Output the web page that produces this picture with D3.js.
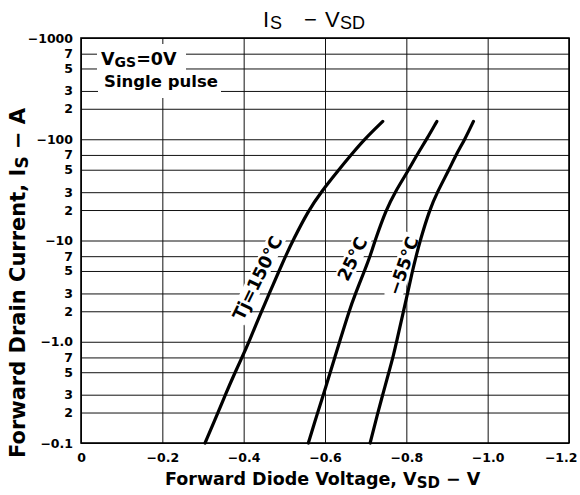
<!DOCTYPE html>
<html><head><meta charset="utf-8">
<script src="https://cdn.jsdelivr.net/npm/d3@7/dist/d3.min.js"></script>
<style>body{margin:0;background:#fff}svg{display:block}</style>
</head><body>
<svg id="c" width="580" height="495"></svg>
<script>
// ---- data ----
const xTicks = [0, -0.2, -0.4, -0.6, -0.8, -1.0, -1.2];
const xTickLabels = ["0", "−0.2", "−0.4", "−0.6", "−0.8", "−1.0", "−1.2"];
const yTicks = [-1000, -700, -500, -300, -200, -100, -70, -50, -30, -20, -10, -7, -5, -3, -2, -1, -0.7, -0.5, -0.3, -0.2, -0.1];
const yTickLabels = ["−1000", "7", "5", "3", "2", "−100", "7", "5", "3", "2", "−10", "7", "5", "3", "2", "−1.0", "7", "5", "3", "2", "−0.1"];
const seriesNames = ["Tj=150°C", "25°C", "−55°C"];
const currentIS = [-0.1, -0.2, -0.3, -0.5, -0.7, -1, -2, -3, -5, -7, -10, -20, -30, -50, -70, -100, -150];
const vsd150 = [-0.305, -0.337, -0.355, -0.379, -0.396, -0.413, -0.444, -0.463, -0.487, -0.503, -0.521, -0.560, -0.590, -0.634, -0.664, -0.697, -0.742];
const vsd25 = [-0.559, -0.582, -0.596, -0.613, -0.624, -0.636, -0.659, -0.675, -0.697, -0.711, -0.723, -0.750, -0.772, -0.806, -0.826, -0.850, -0.875];
const vsdM55 = [-0.711, -0.730, -0.742, -0.757, -0.767, -0.776, -0.793, -0.803, -0.815, -0.824, -0.834, -0.857, -0.876, -0.905, -0.922, -0.944, -0.965];
const noteLines = ["VGS=0V", "Single pulse"];

// ---- layout ----
const L = 81, R = 569, T = 38, B = 443;
const BOLD = "'DejaVu Sans', sans-serif";
const svg = d3.select("#c");
const x = d3.scaleLinear().domain([0, -1.2]).range([L, R]);
const y = d3.scaleLog().domain([-0.1, -1000]).range([B, T]);

// grid
const gy = svg.append("g").attr("transform", `translate(${L},0)`)
  .call(d3.axisLeft(y).tickValues(yTicks).tickSize(-(R - L)).tickFormat(""));
gy.select(".domain").remove();
gy.selectAll("line").attr("stroke", "#111").attr("stroke-width", 1);
const gx = svg.append("g").attr("transform", `translate(0,${B})`)
  .call(d3.axisBottom(x).tickValues(xTicks).tickSize(-(B - T)).tickFormat(""));
gx.select(".domain").remove();
gx.selectAll("line").attr("stroke", "#111").attr("stroke-width", 1);

// labels over grid with white background
function maskedLabel(cx, cy, angle, txt, size) {
  const g = svg.append("g").attr("transform", `translate(${cx},${cy}) rotate(${angle})`);
  const r = g.append("rect").attr("fill", "#fff");
  const t = g.append("text").text(txt).attr("text-anchor", "middle").attr("dominant-baseline", "central")
    .attr("font-family", BOLD).attr("font-weight", "bold").attr("font-size", size);
  const bb = t.node().getBBox();
  r.attr("x", bb.x - 3).attr("y", bb.y + 1).attr("width", bb.width + 6).attr("height", bb.height - 2);
  return g;
}

// curves
const series = [vsd150, vsd25, vsdM55].map(v => v.map((d, i) => ({ v: d, i: currentIS[i] })));
const line = d3.line().x(d => x(d.v)).y(d => y(d.i)).curve(d3.curveBasis);

maskedLabel(257.5, 278, -64, seriesNames[0], 17.5);
maskedLabel(352.5, 259, -64, seriesNames[1], 17.5);
maskedLabel(403.5, 266, -71, seriesNames[2], 17.5);

svg.append("g").selectAll("path").data(series).join("path")
  .attr("d", line).attr("fill", "none").attr("stroke", "#000").attr("stroke-width", 3.2)
  .attr("stroke-linecap", "round").attr("stroke-linejoin", "round");

// frame
svg.append("rect").attr("x", L).attr("y", T).attr("width", R - L).attr("height", B - T)
  .attr("fill", "none").attr("stroke", "#000").attr("stroke-width", 1.6);

// note box
svg.append("rect").attr("x", 97).attr("y", 44).attr("width", 89).attr("height", 31).attr("fill", "#fff");
svg.append("rect").attr("x", 98).attr("y", 75).attr("width", 123).attr("height", 23).attr("fill", "#fff");
const n1 = svg.append("text").attr("x", 101).attr("y", 65).attr("font-family", BOLD).attr("font-weight", "bold").attr("font-size", 17.5);
n1.append("tspan").text(noteLines[0].slice(0, 1));
n1.append("tspan").text(noteLines[0].slice(1, 3)).attr("font-size", 14).attr("dy", 2);
n1.append("tspan").text(noteLines[0].slice(3)).attr("dy", -2);
svg.append("text").attr("x", 104).attr("y", 87).attr("font-family", BOLD).attr("font-weight", "bold")
  .attr("font-size", 16.5).text(noteLines[1]);

// tick labels
const ay = svg.append("g").attr("transform", `translate(${L},0)`)
  .call(d3.axisLeft(y).tickValues(yTicks).tickSize(0).tickPadding(8).tickFormat((d, i) => yTickLabels[i]));
ay.select(".domain").remove();
ay.selectAll("text").attr("font-family", BOLD).attr("font-weight", "bold").attr("font-size", 12.5).attr("fill", "#000");
const ax = svg.append("g").attr("transform", `translate(0,${B})`)
  .call(d3.axisBottom(x).tickValues(xTicks).tickSize(0).tickPadding(10).tickFormat((d, i) => xTickLabels[i]));
ax.select(".domain").remove();
ax.selectAll("text").attr("font-family", BOLD).attr("font-weight", "bold").attr("font-size", 12.5).attr("fill", "#000");
ax.selectAll("text").filter((d, i) => i === xTicks.length - 1).attr("text-anchor", "end").attr("x", 8);

// x title
const xt = svg.append("text").attr("x", 165).attr("y", 485).attr("font-family", BOLD).attr("font-weight", "bold").attr("font-size", 17.5);
xt.append("tspan").text("Forward Diode Voltage, V");
xt.append("tspan").text("SD").attr("font-size", 15).attr("dy", 3);
xt.append("tspan").text("  −  V").attr("dy", -3);

// y title
const yt = svg.append("text").attr("transform", "translate(25,458) rotate(-90)").attr("font-family", BOLD).attr("font-weight", "bold").attr("font-size", 21);
yt.append("tspan").text("Forward Drain Current, I");
yt.append("tspan").text("S").attr("font-size", 17).attr("dy", 3);
yt.append("tspan").text("  −  A").attr("dy", -3);

// title
const tt = svg.append("text").attr("y", 27).attr("font-family", "'Liberation Sans', Arial, sans-serif").attr("font-size", 22);
tt.append("tspan").attr("x", 263).text("I");
tt.append("tspan").attr("x", 270).attr("dy", 2).attr("font-size", 18).text("S");
tt.append("tspan").attr("x", 304).attr("dy", -2).text("−");
tt.append("tspan").attr("x", 325).text("V");
tt.append("tspan").attr("x", 340).attr("dy", 2).attr("font-size", 18).text("SD");
</script>
</body></html>
